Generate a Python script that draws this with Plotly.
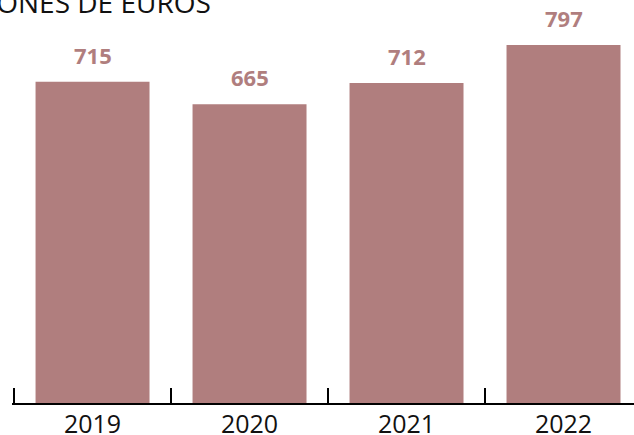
import plotly.graph_objects as go

years = ["2019", "2020", "2021", "2022"]
values = [715, 665, 712, 797]
title_text = "MILLONES DE EUROS"

bar_color = "#b07e7e"
font_family = "Open Sans"

fig = go.Figure()
fig.add_trace(go.Bar(
    x=years, y=values,
    marker=dict(color=bar_color, line=dict(width=0)),
    hoverinfo="skip",
))

for i, v in enumerate(values):
    fig.add_annotation(
        x=i, y=v, xref="x", yref="y",
        text=f"<b>{v}</b>", showarrow=False,
        yanchor="bottom", yshift=10,
        font=dict(family=font_family, size=22, color=bar_color),
    )

fig.add_annotation(
    x=(213 - 12) / 622, y=1, xref="paper", yref="paper",
    xanchor="right", yanchor="middle", yshift=-2,
    text=title_text, showarrow=False,
    font=dict(family=font_family, size=28, color="#111111"),
)

fig.update_layout(
    width=634, height=435,
    margin=dict(l=12, r=0, t=0, b=32),
    paper_bgcolor="white", plot_bgcolor="white",
    bargap=0.274,
    showlegend=False,
    font=dict(family=font_family),
)
fig.update_xaxes(
    type="category", range=[-0.513, 3.449],
    showline=True, linecolor="black", linewidth=2,
    ticks="inside", tickson="boundaries", ticklen=15, tickwidth=2, tickcolor="black",
    tickfont=dict(family=font_family, size=25, color="#111111"),
    ticklabelstandoff=-2,
    showgrid=False, zeroline=False, automargin=False,
)
fig.update_yaxes(
    range=[0, 897], visible=False, showgrid=False, zeroline=False, automargin=False,
)

fig.write_html(
    "out.html",
    config={"displayModeBar": False},
    post_script="document.body.style.margin='0';document.body.style.overflow='hidden';",
)
